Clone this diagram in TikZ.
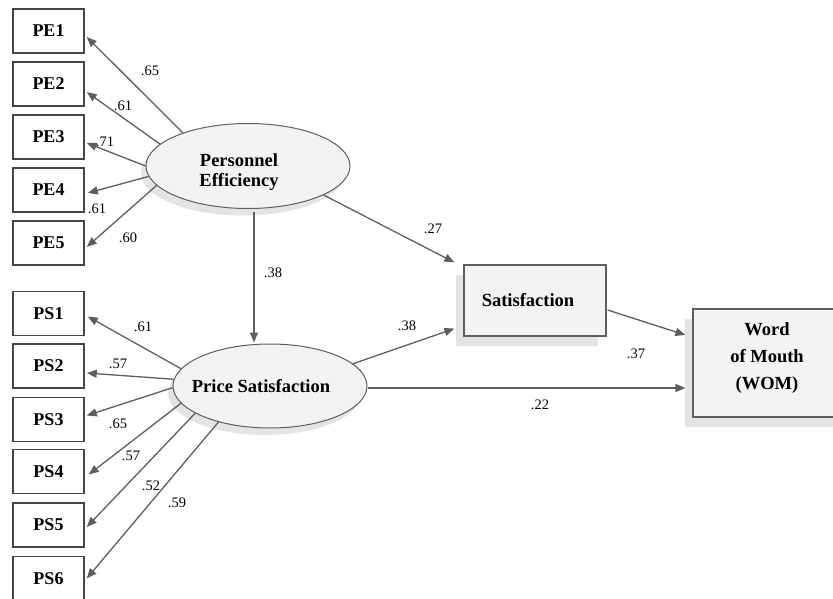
\documentclass[tikz,border=0pt]{standalone}
\usepackage{fontspec}
\setmainfont{Liberation Serif}
\usetikzlibrary{shapes.geometric,arrows.meta,calc,shadows}
\definecolor{linegray}{HTML}{5E5E5E}
\definecolor{boxline}{HTML}{454545}
\definecolor{fillgray}{HTML}{F3F3F3}
\definecolor{shadowgray}{HTML}{C9C9C9}
% place a centred block of lines, shifted by dx (right) and dy (up)
\newcommand{\placetext}[3]{\hspace*{#1}\raisebox{#2}[0pt][0pt]{\begin{tabular}{@{}c@{}}#3\end{tabular}}}
\begin{document}
\begin{tikzpicture}[x=1pt,y=-1pt,
  ind/.style={draw=boxline,line width=1.5pt,fill=white,minimum width=71pt,minimum height=44pt,inner sep=0pt,font=\fontsize{18}{20}\selectfont\bfseries},
  lat/.style={ellipse,draw=linegray,line width=1pt,fill=fillgray,inner sep=0pt,font=\fontsize{18.5}{20}\selectfont\bfseries,
     drop shadow={shadow xshift=-5pt,shadow yshift=-7pt,fill=shadowgray}},
  endo/.style={draw=linegray,line width=1.2pt,fill=fillgray,inner sep=0pt,font=\fontsize{18.5}{27}\selectfont\bfseries,
     drop shadow={shadow xshift=-8pt,shadow yshift=-10pt,fill=shadowgray}},
  arr/.style={draw=linegray,line width=1.3pt,-{Triangle[length=10pt,width=8pt]}},
  coef/.style={font=\fontsize{14.5}{16}\selectfont,inner sep=0pt}]
\useasboundingbox (0,0) rectangle (833,599);

% indicators
\node[ind] (pe1) at (48.5,31) {PE1};
\node[ind] (pe2) at (48.5,84) {PE2};
\node[ind] (pe3) at (48.5,137) {PE3};
\node[ind] (pe4) at (48.5,190) {PE4};
\node[ind] (pe5) at (48.5,243) {PE5};
\node[ind] (ps1) at (48.5,313.5) {PS1};
\node[ind] (ps2) at (48.5,366) {PS2};
\node[ind] (ps3) at (48.5,419.5) {PS3};
\node[ind] (ps4) at (48.5,471.5) {PS4};
\node[ind] (ps5) at (48.5,525) {PS5};
\node[ind] (ps6) at (48.5,578.5) {PS6};

% latent variables
\node[lat,minimum width=204pt,minimum height=85pt] (pe) at (248,166) {\placetext{-18pt}{-11pt}{Personnel\\Efficiency}};
\node[lat,minimum width=194pt,minimum height=84pt] (ps) at (270,386) {\placetext{-18pt}{-7pt}{Price Satisfaction}};

% endogenous
\node[endo,minimum width=142pt,minimum height=71pt] (sat) at (535,300.5) {\placetext{-14pt}{-5pt}{Satisfaction}};
\node[endo,minimum width=148pt,minimum height=108pt] (wom) at (767,363) {\placetext{0pt}{2pt}{Word\\of Mouth\\(WOM)}};

% PE loadings
\draw[arr] (pe.153.4) -- ($(pe1.east)+(2,6)$);
\draw[arr] (pe.166.5) -- ($(pe2.east)+(2,8)$);
\draw[arr] (pe.180.6) -- ($(pe3.east)+(2,6)$);
\draw[arr] (pe.186.7) -- ($(pe4.east)+(3,3)$);
\draw[arr] (pe.192.6) -- ($(pe5.east)+(2,4)$);

% PS loadings
\draw[arr] (ps.169.3) -- ($(ps1.east)+(3,3)$);
\draw[arr] (ps.176.5) -- ($(ps2.east)+(2,7)$);
\draw[arr] (ps.181.8) -- ($(ps3.east)+(2,-4)$);
\draw[arr] (ps.191.6) -- ($(ps4.east)+(4,3)$);
\draw[arr] (ps.200.2) -- ($(ps5.east)+(2,2)$);
\draw[arr] (ps.215.6) -- ($(ps6.east)+(2,0)$);

% structural paths
\draw[arr] ($(pe.south)+(6,3)$) -- ($(ps.north)+(-16,-1)$);
\draw[arr] (pe.339.5) -- ($(sat.north west)+(-9,-2)$);
\draw[arr] (ps.15) -- ($(sat.south west)+(-9,-8)$);
\draw[arr] ($(ps.east)+(0,2)$) -- ($(ps.east -| wom.west)+(-7,2)$);
\draw[arr] ($(sat.east)+(1,9.5)$) -- ($(wom.west)+(-7,-28)$);

% coefficients
\node[coef] at (150,71) {.65};
\node[coef] at (123,106) {.61};
\node[coef] at (105,142) {.71};
\node[coef] at (97,209) {.61};
\node[coef] at (128,238) {.60};
\node[coef] at (143,327) {.61};
\node[coef] at (118,364) {.57};
\node[coef] at (118,424) {.65};
\node[coef] at (131,456) {.57};
\node[coef] at (151,486) {.52};
\node[coef] at (177,503) {.59};
\node[coef] at (273,273) {.38};
\node[coef] at (433,229) {.27};
\node[coef] at (407,326) {.38};
\node[coef] at (540,405) {.22};
\node[coef] at (636,354) {.37};
\end{tikzpicture}
\end{document}
